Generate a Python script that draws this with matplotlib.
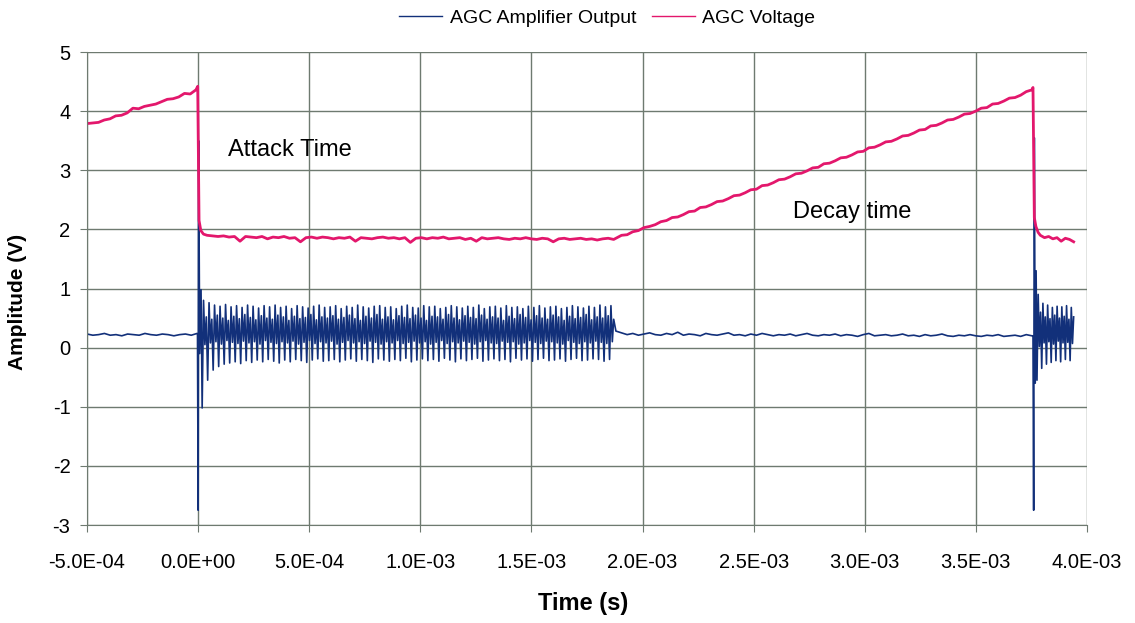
import numpy as np
import matplotlib
matplotlib.use("Agg")
import matplotlib.pyplot as plt
from matplotlib.ticker import FuncFormatter, MultipleLocator

plt.rcParams['font.family'] = ['Liberation Sans', 'DejaVu Sans']

# AGC Voltage (magenta)
volt_pre = [3.79, 3.80, 3.81, 3.85, 3.87, 3.92, 3.93, 3.97, 4.05, 4.04,
            4.08, 4.10, 4.12, 4.16, 4.20, 4.21, 4.24, 4.30, 4.29, 4.36]
volt_drop_t = [-0.2e-5, 0.4e-5, 1.2e-5, 2.4e-5]
volt_drop = [4.42, 2.15, 1.98, 1.92]
volt_flat = [1.90, 1.89, 1.88, 1.89, 1.87, 1.88, 1.80, 1.88, 1.87, 1.86,
             1.88, 1.84, 1.87, 1.86, 1.88, 1.85, 1.86, 1.79, 1.86, 1.87,
             1.85, 1.87, 1.86, 1.84, 1.86, 1.85, 1.87, 1.80, 1.86, 1.85,
             1.84, 1.86, 1.87, 1.85, 1.86, 1.84, 1.86, 1.78, 1.85, 1.86,
             1.84, 1.86, 1.85, 1.87, 1.84, 1.85, 1.86, 1.83, 1.85, 1.80,
             1.86, 1.84, 1.85, 1.86, 1.84, 1.83, 1.85, 1.84, 1.86, 1.84,
             1.83, 1.85, 1.84, 1.79, 1.84, 1.85, 1.83, 1.84, 1.85, 1.83,
             1.84, 1.82, 1.84, 1.85, 1.83]
volt_rise = [1.85, 1.90, 1.91, 1.96, 1.98, 2.03, 2.05, 2.08, 2.13, 2.15,
             2.20, 2.21, 2.25, 2.30, 2.31, 2.37, 2.38, 2.42, 2.47, 2.48,
             2.52, 2.57, 2.58, 2.62, 2.67, 2.68, 2.74, 2.75, 2.79, 2.84,
             2.85, 2.89, 2.94, 2.95, 2.99, 3.04, 3.05, 3.11, 3.12, 3.16,
             3.21, 3.22, 3.26, 3.31, 3.32, 3.38, 3.39, 3.43, 3.48, 3.49,
             3.53, 3.58, 3.59, 3.63, 3.68, 3.69, 3.75, 3.76, 3.80, 3.85,
             3.86, 3.90, 3.95, 3.96, 4.00, 4.05, 4.06, 4.12, 4.13, 4.17,
             4.22, 4.23, 4.27, 4.33, 4.36]
volt_drop2_t = [3.757e-3, 3.763e-3, 3.770e-3, 3.780e-3]
volt_drop2 = [4.40, 2.20, 2.05, 1.95]
volt_tail = [1.90, 1.86, 1.88, 1.84, 1.86, 1.80, 1.85, 1.83, 1.79]

# AGC Amplifier Output (blue)
amp_pre = [0.23, 0.21, 0.22, 0.24, 0.21, 0.22, 0.20, 0.23, 0.22, 0.21,
           0.24, 0.22, 0.21, 0.23, 0.22, 0.20, 0.22, 0.23, 0.21, 0.24]
amp_kick_t = [-0.3e-5, 0.0, 0.2e-5, 0.7e-5, 1.3e-5]
amp_kick = [0.22, -2.75, 3.50, -0.10, 0.98]
amp_peaks = [0.80, 0.76, 0.72, 0.70, 0.73, 0.69, 0.71, 0.68, 0.72, 0.70,
             0.67, 0.71, 0.69, 0.72, 0.68, 0.70, 0.66, 0.71, 0.69, 0.67,
             0.70, 0.72, 0.68, 0.69, 0.71, 0.66, 0.70, 0.68, 0.72, 0.69,
             0.67, 0.70, 0.71, 0.68, 0.69, 0.66, 0.70, 0.72, 0.68, 0.67,
             0.71, 0.69, 0.70, 0.66, 0.68, 0.71, 0.69, 0.67, 0.70, 0.68,
             0.72, 0.66, 0.69, 0.70, 0.67, 0.71, 0.68, 0.69, 0.66, 0.70,
             0.68, 0.71, 0.67, 0.69, 0.70, 0.66, 0.68, 0.71, 0.69, 0.67,
             0.70, 0.68, 0.72, 0.69, 0.71]
amp_troughs = [-1.02, -0.55, -0.38, -0.32, -0.28, -0.26, -0.24, -0.27, -0.22, -0.25,
               -0.21, -0.24, -0.20, -0.23, -0.26, -0.21, -0.24, -0.20, -0.22, -0.25,
               -0.21, -0.19, -0.23, -0.22, -0.20, -0.24, -0.21, -0.19, -0.23, -0.20,
               -0.22, -0.25, -0.19, -0.21, -0.23, -0.20, -0.22, -0.18, -0.24, -0.21,
               -0.19, -0.22, -0.20, -0.23, -0.18, -0.21, -0.24, -0.19, -0.22, -0.20,
               -0.18, -0.23, -0.21, -0.19, -0.22, -0.20, -0.24, -0.18, -0.21, -0.19,
               -0.23, -0.20, -0.18, -0.22, -0.21, -0.19, -0.23, -0.20, -0.18, -0.22,
               -0.21, -0.19, -0.20, -0.23, -0.20]
# secondary swing inside each cycle (harmonic content)
amp_mid_lo = [0.05, 0.08, 0.10, 0.06, 0.12, 0.09, 0.07, 0.11, 0.08, 0.10,
              0.06, 0.12, 0.09, 0.07, 0.10, 0.08, 0.11, 0.06, 0.09, 0.12,
              0.07, 0.10, 0.08, 0.11, 0.06, 0.09, 0.12, 0.08, 0.10, 0.07,
              0.11, 0.09, 0.06, 0.10, 0.08, 0.12, 0.07, 0.09, 0.11, 0.08,
              0.10, 0.06, 0.09, 0.12, 0.07, 0.10, 0.08, 0.11, 0.09, 0.06,
              0.10, 0.12, 0.08, 0.07, 0.11, 0.09, 0.10, 0.06, 0.08, 0.12,
              0.09, 0.07, 0.11, 0.10, 0.08, 0.06, 0.12, 0.09, 0.07, 0.10,
              0.08, 0.11, 0.09, 0.07, 0.10]
amp_mid_hi = [0.52, 0.48, 0.55, 0.50, 0.46, 0.53, 0.49, 0.56, 0.51, 0.47,
              0.54, 0.50, 0.48, 0.55, 0.52, 0.46, 0.53, 0.49, 0.51, 0.56,
              0.47, 0.52, 0.50, 0.54, 0.48, 0.51, 0.55, 0.49, 0.46, 0.53,
              0.50, 0.56, 0.48, 0.52, 0.47, 0.54, 0.51, 0.49, 0.55, 0.50,
              0.46, 0.53, 0.52, 0.48, 0.56, 0.50, 0.47, 0.54, 0.51, 0.49,
              0.55, 0.48, 0.52, 0.50, 0.46, 0.53, 0.49, 0.56, 0.51, 0.47,
              0.54, 0.50, 0.48, 0.55, 0.52, 0.46, 0.53, 0.49, 0.51, 0.56,
              0.47, 0.52, 0.50, 0.54, 0.48]
amp_quiet = [0.28, 0.25, 0.22, 0.24, 0.21, 0.23, 0.25, 0.22, 0.21, 0.24,
             0.22, 0.26, 0.21, 0.23, 0.22, 0.20, 0.24, 0.22, 0.21, 0.23,
             0.25, 0.21, 0.22, 0.20, 0.23, 0.21, 0.24, 0.22, 0.20, 0.22,
             0.21, 0.23, 0.20, 0.22, 0.24, 0.21, 0.20, 0.22, 0.21, 0.23,
             0.20, 0.22, 0.21, 0.19, 0.22, 0.24, 0.20, 0.21, 0.22, 0.20,
             0.21, 0.23, 0.20, 0.21, 0.19, 0.22, 0.20, 0.21, 0.23, 0.20,
             0.19, 0.21, 0.20, 0.22, 0.20, 0.19, 0.21, 0.20, 0.22, 0.19,
             0.20, 0.21, 0.19, 0.22, 0.20]
amp_kick2_t = [3.757e-3, 3.760e-3, 3.763e-3, 3.767e-3, 3.771e-3]
amp_kick2 = [0.20, -2.75, 3.55, -0.60, 1.30]
amp_tail_peaks = [0.90, 0.75, 0.72, 0.68, 0.70, 0.69, 0.71, 0.68]
amp_tail_troughs = [-0.55, -0.35, -0.28, -0.25, -0.22, -0.24, -0.20, -0.22]
amp_tail_lo = [0.02, 0.08, 0.10, 0.06, 0.11, 0.08, 0.09, 0.07]
amp_tail_hi = [0.60, 0.52, 0.49, 0.55, 0.50, 0.53, 0.48, 0.52]

# sample grids of the scope record
t_pre = np.linspace(-5.0e-4, -0.1e-4, len(volt_pre))
t_flat = np.linspace(0.4e-4, 1.87e-3, len(volt_flat))
t_rise = np.linspace(1.88e-3, 3.752e-3, len(volt_rise))
t_tail = np.linspace(3.79e-3, 3.94e-3, len(volt_tail))
t_apre = np.linspace(-5.0e-4, -0.5e-5, len(amp_pre))
t_osc = np.linspace(1.8e-5, 1.87e-3, 4 * len(amp_peaks))
t_quiet = np.linspace(1.88e-3, 3.752e-3, len(amp_quiet))
t_atail = np.linspace(3.775e-3, 3.94e-3, 4 * len(amp_tail_peaks))

osc = np.ravel(np.column_stack([amp_troughs, amp_peaks, amp_mid_lo, amp_mid_hi]))
osc_tail = np.ravel(np.column_stack([amp_tail_troughs, amp_tail_peaks,
                                     amp_tail_lo, amp_tail_hi]))

amp_t = np.concatenate([t_apre, amp_kick_t, t_osc, t_quiet, amp_kick2_t, t_atail])
amp_v = np.concatenate([amp_pre, amp_kick, osc, amp_quiet, amp_kick2, osc_tail])
volt_t = np.concatenate([t_pre, volt_drop_t, t_flat, t_rise, volt_drop2_t, t_tail])
volt_v = np.concatenate([volt_pre, volt_drop, volt_flat, volt_rise, volt_drop2, volt_tail])

# ---------------- plot ----------------
fig = plt.figure(figsize=(11.35, 6.23), dpi=100)
ax = fig.add_axes([0.0767, 0.1573, 0.8810, 0.7592])

grid_col = '#6e7a70'
ax.plot(amp_t, amp_v, color='#12307a', lw=1.2, label='AGC Amplifier Output')
ax.plot(volt_t, volt_v, color='#e3176c', lw=2.0, label='AGC Voltage')

ax.set_xlim(-5e-4, 4e-3)
ax.set_ylim(-3, 5)
ax.xaxis.set_major_locator(MultipleLocator(5e-4))
ax.yaxis.set_major_locator(MultipleLocator(1))
ax.xaxis.set_major_formatter(FuncFormatter(lambda v, p: '%.1E' % (0.0 if abs(v) < 1e-12 else v)))
ax.yaxis.set_major_formatter(FuncFormatter(lambda v, p: '%d' % v))
ax.grid(True, color=grid_col, lw=1.0)
ax.set_axisbelow(True)
for s in ['top', 'right']:
    ax.spines[s].set_visible(False)
for s in ['left', 'bottom']:
    ax.spines[s].set_color(grid_col)
ax.tick_params(axis='both', direction='out', length=5, color=grid_col, labelsize=14.5)
ax.tick_params(axis='x', pad=15)
ax.tick_params(axis='y', pad=7)

ax.set_xlabel('Time (s)', fontsize=17, fontweight='bold')
ax.xaxis.set_label_coords(0.496, -0.142)
ax.set_ylabel('Amplitude (V)', fontsize=15, fontweight='bold')
ax.yaxis.set_label_coords(-0.060, 0.471)

ax.text(0.134e-3, 3.35, 'Attack Time', fontsize=17, va='center')
ax.text(2.675e-3, 2.30, 'Decay time', fontsize=17, va='center')

fig.legend(loc='center', bbox_to_anchor=(0.535, 0.971), ncol=2, frameon=False,
           fontsize=14, handlelength=2.2, handletextpad=0.4, columnspacing=0.8)
for h in fig.legends[0].get_lines():
    h.set_linewidth(1.0)

fig.savefig('out.png', dpi=100)
